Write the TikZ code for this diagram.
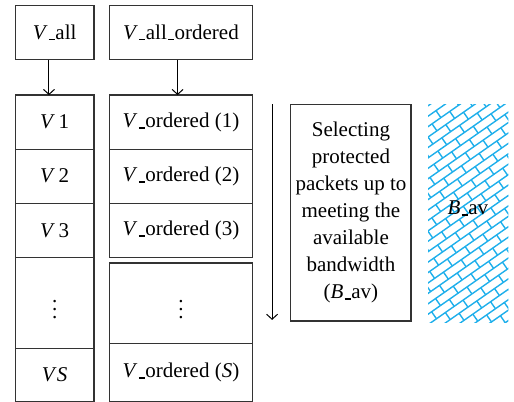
\documentclass[tikz,border=0pt]{standalone}
\usepackage{fontspec}
\setmainfont{Liberation Serif}
\usetikzlibrary{arrows.meta}
\definecolor{hatchblue}{RGB}{30,175,235}
\newcommand{\lowbar}{\kern0.6pt\rule[-0.7pt]{3pt}{0.8pt}\kern0.3pt}

\begin{document}
\begin{tikzpicture}[font=\fontsize{10.5}{13.5}\selectfont,>={Straight Barb[length=2.5pt,width=5.5pt]}]

\tikzstyle{cellbox} = [draw=black!80,line width=0.6pt,inner sep=0,outer sep=0]
\tikzstyle{leftcell} = [cellbox,minimum width=1.38cm]
\tikzstyle{rightcell} = [cellbox,minimum width=2.50cm]
\tikzstyle{hatchline} = [hatchblue,line width=0.7pt]

\useasboundingbox (0,0) rectangle (9.03,-7.06);

\node [leftcell,minimum height=0.96cm] (vall) at (0.96,-0.57) {\textit{V}\lowbar all};
\node [rightcell,minimum height=0.96cm] (vallord) at (3.18,-0.57) {\textit{V}\lowbar all\lowbar ordered};

\node [leftcell,minimum height=0.95cm] (v1) at (0.96,-2.145) {\textit{V}\,1};
\node [leftcell,minimum height=0.95cm] (v2) at (0.96,-3.095) {\textit{V}\,2};
\node [leftcell,minimum height=0.96cm] (v3) at (0.96,-4.05) {\textit{V}\,3};
\node [leftcell,minimum height=1.59cm] (vdots) at (0.96,-5.325) {$\vdots$};
\node [leftcell,minimum height=0.93cm] (vs) at (0.96,-6.585) {\textit{V\kern1pt S}};

\node [rightcell,minimum height=0.95cm] (ord1) at (3.18,-2.145) {\textit{V}\lowbar ordered (1)};
\node [rightcell,minimum height=0.95cm] (ord2) at (3.18,-3.095) {\textit{V}\lowbar ordered (2)};
\node [rightcell,minimum height=0.95cm] (ord3) at (3.18,-4.045) {\textit{V}\lowbar ordered (3)};
\node [rightcell,minimum height=1.41cm] (orddots) at (3.18,-5.325) {$\vdots$};
\node [rightcell,minimum height=1.02cm] (ordS) at (3.18,-6.54) {\textit{V}\lowbar ordered (\textit{S})};

\draw [->,line width=0.5pt] ([xshift=-0.1cm]vall.south) -- ([xshift=-0.1cm]v1.north);
\draw [->,line width=0.5pt] ([xshift=-0.06cm]vallord.south) -- ([xshift=-0.06cm]ord1.north);

\coordinate (scantop) at (4.78,-1.83);
\coordinate (scanend) at (4.78,-5.62);
\draw [->,line width=0.5pt] (scantop) -- (scanend);

\node [cellbox,minimum width=2.11cm,minimum height=3.81cm,align=center] (select) at (6.165,-3.735)
  {Selecting\\protected\\packets up to\\meeting the\\available\\bandwidth\\(\textit{B}\lowbar av)};

% brick hatching for the bandwidth column
\begin{scope}
\clip (7.52,-1.83) rectangle (8.93,-5.66);
\begin{scope}[shift={(8.225,-3.745)},rotate=35]
\foreach \r in {-15,...,15} {
  \draw [hatchline] (-3,\r*0.15) -- (3,\r*0.15);
  \foreach \c in {-8,...,8}
    \draw [hatchline] ({\c*0.38+mod(\r+100,2)*0.19},\r*0.15) -- ++(0,0.15);
}
\end{scope}
\end{scope}

\node (bav) at (8.22,-3.66) {\textit{B}\lowbar av};

\end{tikzpicture}
\end{document}
